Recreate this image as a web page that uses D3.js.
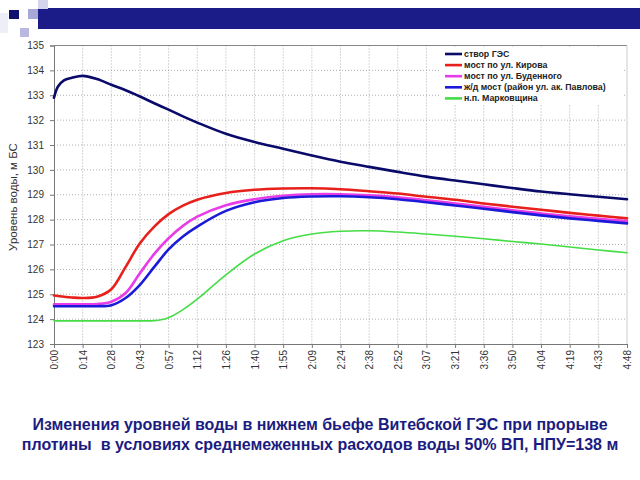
<!DOCTYPE html>
<html><head><meta charset="utf-8">
<script src="https://cdn.jsdelivr.net/npm/d3@7"></script>
<style>body{margin:0;background:#fff}svg{display:block}</style>
</head><body>
<svg id="c" width="640" height="480"></svg>
<script>
const times = [0,2,5,9,14.4,21.6,28.8,36,43.2,50.4,57.6,64.8,72,86.4,100.8,115.2,129.6,144,158.4,172.8,187.2,201.6,216,230.4,244.8,259.2,273.6,288];
const tickLabels = ["0:00","0:14","0:28","0:43","0:57","1:12","1:26","1:40","1:55","2:09","2:24","2:38","2:52","3:07","3:21","3:36","3:50","4:04","4:19","4:33","4:48"];
const yTicks = [123,124,125,126,127,128,129,130,131,132,133,134,135];
const seriesNames = ["створ ГЭС","мост по ул. Кирова","мост по ул. Буденного","ж/д мост (район ул. ак. Павлова)","н.п. Марковщина"];
const stvor   = [132.9,133.35,133.6,133.7,133.78,133.65,133.42,133.2,132.95,132.68,132.42,132.15,131.9,131.45,131.12,130.85,130.58,130.33,130.12,129.92,129.73,129.57,129.42,129.27,129.13,129.02,128.92,128.82];
const kirova  = [124.95,124.93,124.9,124.87,124.85,124.9,125.2,126.1,127.05,127.72,128.22,128.56,128.8,129.07,129.2,129.25,129.26,129.22,129.14,129.05,128.92,128.8,128.65,128.52,128.4,128.27,128.16,128.05];
const budennogo = [124.6,124.6,124.6,124.6,124.6,124.61,124.7,125.05,125.85,126.62,127.25,127.75,128.12,128.58,128.82,128.96,129.02,129.02,128.98,128.9,128.78,128.65,128.52,128.38,128.25,128.13,128.03,127.94];
const zdMost  = [124.52,124.52,124.52,124.52,124.52,124.52,124.56,124.85,125.38,126.1,126.8,127.32,127.72,128.35,128.7,128.87,128.93,128.94,128.9,128.82,128.7,128.57,128.44,128.3,128.17,128.05,127.95,127.85];
const markovsch = [123.93,123.93,123.93,123.93,123.93,123.93,123.93,123.93,123.93,123.94,124.06,124.38,124.8,125.78,126.62,127.15,127.42,127.53,127.55,127.5,127.42,127.33,127.23,127.12,127.02,126.9,126.78,126.67];
const seriesValues = [stvor,kirova,budennogo,zdMost,markovsch];
const seriesColors = ["#0a0a6a","#e8201c","#e83ce8","#1a1ad8","#44dd44"];
const seriesWidths = [2.6,2.6,2.6,2.6,1.6];

const svg = d3.select("#c");
// header decoration
const hdr = svg.append("g");
hdr.append("rect").attr("x",38).attr("y",8).attr("width",602).attr("height",21).attr("fill","#1c1c88");
hdr.append("rect").attr("x",38).attr("y",0).attr("width",10).attr("height",9).attr("fill","#d4d4ec");
hdr.append("rect").attr("x",28).attr("y",9).attr("width",10).attr("height",10).attr("fill","#a8a8d8");
hdr.append("rect").attr("x",0).attr("y",13).attr("width",8).attr("height",20).attr("fill","#eeeef8");
hdr.append("rect").attr("x",20).attr("y",28).attr("width",9).attr("height",9).attr("fill","#b8b8e0");
hdr.append("rect").attr("x",9).attr("y",10).attr("width",10).attr("height",9).attr("fill","#10106e");

const L=54,R=627,T=45.5,B=344;
const x = d3.scaleLinear().domain([0,288]).range([L,R]);
const y = d3.scaleLinear().domain([123,135]).range([B,T]);
const tickTimes = tickLabels.map((d,i)=>i*14.4);

// grid
const g = svg.append("g");
g.selectAll(".vg").data(tickTimes.slice(1,-1)).join("line")
 .attr("x1",d=>x(d)).attr("x2",d=>x(d)).attr("y1",T).attr("y2",B)
 .attr("stroke","#9a9a9a").attr("stroke-width",0.8).attr("stroke-dasharray","1,2");
g.selectAll(".hg").data(yTicks.slice(1,-1)).join("line")
 .attr("x1",L).attr("x2",R).attr("y1",d=>y(d)).attr("y2",d=>y(d))
 .attr("stroke","#9a9a9a").attr("stroke-width",0.8).attr("stroke-dasharray","1,2");
// border
g.append("line").attr("x1",L).attr("x2",R).attr("y1",T).attr("y2",T).attr("stroke","#888");
g.append("line").attr("x1",R).attr("x2",R).attr("y1",T).attr("y2",B).attr("stroke","#ccc");

// axes
const yAxis = d3.axisLeft(y).tickValues(yTicks).tickSize(4).tickFormat(d3.format("d"));
const ya = svg.append("g").attr("transform",`translate(${L},0)`).call(yAxis);
ya.select(".domain").attr("stroke","#777");
ya.selectAll(".tick line").attr("stroke","#777");
ya.selectAll("text").attr("font-family","Arial, Liberation Sans, sans-serif").attr("font-size","10px").attr("fill","#333").attr("dx","-3");

const xAxis = d3.axisBottom(x).tickValues(tickTimes).tickSize(4).tickFormat((d,i)=>tickLabels[i]);
const xa = svg.append("g").attr("transform",`translate(0,${B})`).call(xAxis);
xa.select(".domain").attr("stroke","#777");
xa.selectAll(".tick line").attr("stroke","#777");
xa.selectAll("text").attr("font-family","Arial, Liberation Sans, sans-serif").attr("font-size","10px").attr("fill","#333")
 .attr("transform","rotate(-90)").attr("text-anchor","end").attr("x",-6).attr("y",0).attr("dy","0.35em");

// lines
const line = d3.line().x((d,i)=>x(times[i])).y(d=>y(d)).curve(d3.curveCatmullRom.alpha(0.5));
svg.append("g").selectAll("path").data(seriesValues).join("path")
 .attr("d",line).attr("fill","none")
 .attr("stroke",(d,i)=>seriesColors[i]).attr("stroke-width",(d,i)=>seriesWidths[i])
 .attr("stroke-linejoin","round").attr("stroke-linecap","round");

// legend
const lg = svg.append("g");
lg.append("rect").attr("x",440).attr("y",47).attr("width",184).attr("height",57).attr("fill","#fff");
const rows = lg.selectAll("g").data(seriesNames).join("g").attr("transform",(d,i)=>`translate(445,${54+i*11.1})`);
rows.append("line").attr("x1",0).attr("x2",17).attr("stroke",(d,i)=>seriesColors[i]).attr("stroke-width",2.6);
rows.append("text").attr("x",19).attr("dy","0.35em").text(d=>d)
 .attr("font-family","Arial, Liberation Sans, sans-serif").attr("font-size","8.8px").attr("font-weight","bold").attr("fill","#222");

// y label
svg.append("text").attr("transform","translate(17,197) rotate(-90)").attr("text-anchor","middle")
 .attr("font-family","Arial, Liberation Sans, sans-serif").attr("font-size","11.5px").attr("fill","#333")
 .text("Уровень воды, м БС");

// title
const title = ["Изменения уровней воды в нижнем бьефе Витебской ГЭС при прорыве","плотины  в условиях среднемеженных расходов воды 50% ВП, НПУ=138 м"];
svg.append("g").selectAll("text").data(title).join("text")
 .attr("x",320).attr("y",(d,i)=>430+i*20).attr("text-anchor","middle")
 .attr("font-family","Arial, Liberation Sans, sans-serif").attr("font-size","16px").attr("font-weight","bold")
 .attr("fill","#1c1c80").attr("xml:space","preserve").style("white-space","pre").text(d=>d);
</script>
</body></html>
